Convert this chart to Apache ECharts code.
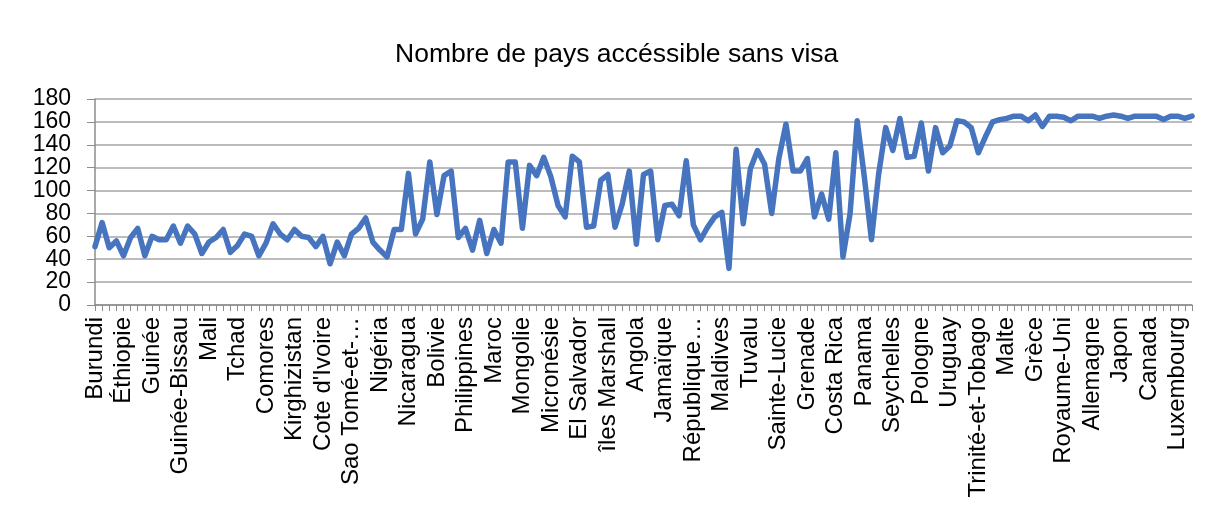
<!DOCTYPE html>
<html>
<head>
<meta charset="utf-8">
<script src="https://cdn.jsdelivr.net/npm/echarts@6/dist/echarts.min.js"></script>
<style>
html, body { margin: 0; padding: 0; background: #fff; }
#myChart { width: 1208px; height: 520px; }
</style>
</head>
<body>
<div id="myChart"></div>
<script>
// libellés visibles (un pays sur quatre), les autres ne sont pas lisibles
var shownLabels = ['Burundi', 'Éthiopie', 'Guinée', 'Guinée-Bissau', 'Mali', 'Tchad', 'Comores',
  'Kirghizistan', "Cote d'Ivoire", 'Sao Tomé-et-…', 'Nigéria', 'Nicaragua', 'Bolivie', 'Philippines',
  'Maroc', 'Mongolie', 'Micronésie', 'El Salvador', 'îles Marshall', 'Angola', 'Jamaïque',
  'République…', 'Maldives', 'Tuvalu', 'Sainte-Lucie', 'Grenade', 'Costa Rica', 'Panama',
  'Seychelles', 'Pologne', 'Uruguay', 'Trinité-et-Tobago', 'Malte', 'Grèce', 'Royaume-Uni',
  'Allemagne', 'Japon', 'Canada', 'Luxembourg'];

var visaFree = [
  51, 72, 50, 56, 43, 59, 67, 43, 60, 57, 57, 69, 54, 69, 62, 45, 55, 59, 66, 46,
  52, 62, 60, 43, 54, 71, 62, 57, 66, 60, 59, 51, 60, 36, 55, 43, 62, 67, 76, 55,
  48, 42, 66, 66, 115, 62, 75, 125, 79, 113, 117, 59, 67, 48, 74, 45, 66, 54, 125, 125,
  67, 122, 113, 129, 112, 87, 77, 130, 125, 68, 69, 109, 114, 68, 88, 117, 53, 114, 117, 57,
  87, 88, 78, 126, 70, 57, 68, 77, 81, 32, 136, 71, 119, 135, 123, 80, 128, 158, 117, 117,
  128, 77, 97, 75, 133, 42, 80, 161, 112, 57, 114, 155, 135, 163, 129, 130, 159, 117, 155, 133,
  139, 161, 160, 155, 133, 147, 160, 162, 163, 165, 165, 161, 166, 156, 165, 165, 164, 161, 165, 165,
  165, 163, 165, 166, 165, 163, 165, 165, 165, 165, 162, 165, 165, 163, 165
];

var yTicks = [0, 20, 40, 60, 80, 100, 120, 140, 160, 180];

var countries = [];
for (var i = 0; i < visaFree.length; i++) {
  countries.push(i % 4 === 0 ? shownLabels[i / 4] : '');
}

var myChart = echarts.init(document.getElementById('myChart'));
var option = {
  animation: false,
  textStyle: { fontFamily: 'Liberation Sans, Arial, sans-serif' },
  title: {
    text: 'Nombre de pays accéssible sans visa',
    left: 390,
    top: 36,
    textStyle: { fontSize: 26.5, fontWeight: 'normal', color: '#000' }
  },
  grid: { left: 95, right: 16, top: 99, bottom: 215 },
  xAxis: {
    type: 'category',
    data: countries,
    boundaryGap: false,
    axisLine: { lineStyle: { color: '#8c8c8c', width: 1.5 } },
    axisTick: { interval: 0, length: 6, lineStyle: { color: '#8c8c8c' } },
    axisLabel: {
      interval: 3,
      rotate: 90,
      margin: 12,
      fontSize: 24,
      color: '#000'
    },
    splitLine: { show: false }
  },
  yAxis: {
    type: 'value',
    min: yTicks[0],
    max: yTicks[yTicks.length - 1],
    interval: 20,
    axisLine: { show: true, lineStyle: { color: '#8c8c8c', width: 1.5 } },
    axisTick: { show: true, inside: false, length: 8, lineStyle: { color: '#8c8c8c' } },
    axisLabel: { fontSize: 23, color: '#000', margin: 24 },
    splitLine: { lineStyle: { color: '#a6a6a6', width: 1.5 } }
  },
  series: [{
    name: 'Nombre de pays',
    type: 'line',
    data: visaFree,
    showSymbol: false,
    lineStyle: { color: '#4674bf', width: 5.5, join: 'round', cap: 'round' },
    itemStyle: { color: '#4674bf' }
  }]
};
myChart.setOption(option);
</script>
</body>
</html>
